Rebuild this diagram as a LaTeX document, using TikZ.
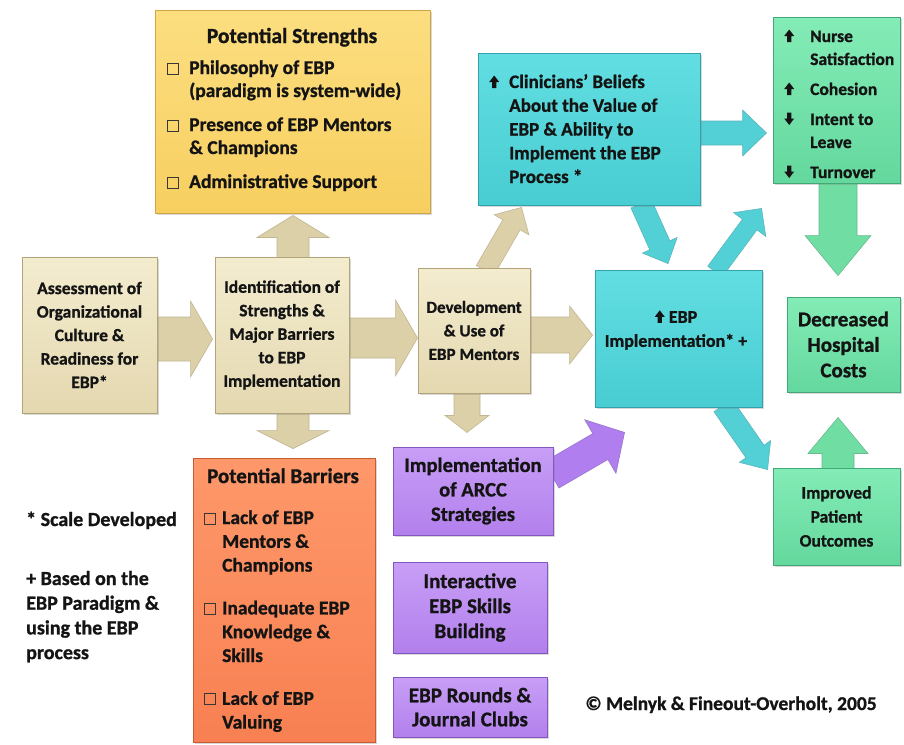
\documentclass[tikz,border=0pt]{standalone}
\usepackage{fontspec}
\setmainfont{Carlito}[BoldFeatures={FakeBold=1}]
\usetikzlibrary{calc,shadows}
\pgfdeclarelayer{bgwhite}
\pgfdeclarelayer{arrowlayer}
\pgfsetlayers{bgwhite,arrowlayer,main}

\definecolor{tanT}{RGB}{243,236,207}
\definecolor{tanB}{RGB}{228,216,176}
\definecolor{tanD}{RGB}{178,163,120}
\definecolor{tanA}{RGB}{220,208,168}
\definecolor{yelT}{RGB}{252,222,128}
\definecolor{yelB}{RGB}{247,207,96}
\definecolor{yelD}{RGB}{205,165,70}
\definecolor{cyaT}{RGB}{98,222,226}
\definecolor{cyaB}{RGB}{72,205,210}
\definecolor{cyaD}{RGB}{52,162,170}
\definecolor{cyaA}{RGB}{82,208,214}
\definecolor{grnT}{RGB}{132,236,182}
\definecolor{grnB}{RGB}{100,216,158}
\definecolor{grnD}{RGB}{68,168,118}
\definecolor{grnA}{RGB}{112,222,162}
\definecolor{ornT}{RGB}{254,152,106}
\definecolor{ornB}{RGB}{248,128,82}
\definecolor{ornD}{RGB}{198,92,52}
\definecolor{purT}{RGB}{200,158,246}
\definecolor{purB}{RGB}{178,128,236}
\definecolor{purD}{RGB}{128,88,190}
\definecolor{purA}{RGB}{176,126,238}
\definecolor{ink}{RGB}{20,20,20}

\newcommand{\cbx}{\tikz[baseline=0pt]\draw[line width=1pt,draw=ink!85] (0pt,0pt) rectangle (11pt,11pt);}
\newcommand{\upic}{\tikz[baseline=0pt]\fill[ink] (-2.2pt,0pt) -- (-2.2pt,6pt) -- (-5pt,6pt) -- (0pt,12.5pt) -- (5pt,6pt) -- (2.2pt,6pt) -- (2.2pt,0pt) -- cycle;}
\newcommand{\dnic}{\tikz[baseline=0pt]\fill[ink] (-2.2pt,12.5pt) -- (-2.2pt,6.5pt) -- (-5pt,6.5pt) -- (0pt,0pt) -- (5pt,6.5pt) -- (2.2pt,6.5pt) -- (2.2pt,12.5pt) -- cycle;}
% fat block arrow: style, start, tip, half shaft, half head, head length
\newcommand{\fatarr}[6]{%
  \coordinate (faC) at ($(#3)!#6!(#2)$);
  \filldraw[#1] ($(#2)!#4!90:(#3)$) -- ($(faC)!#4!90:(#3)$) -- ($(faC)!#5!90:(#3)$) -- (#3)
    -- ($(faC)!#5!-90:(#3)$) -- ($(faC)!#4!-90:(#3)$) -- ($(#2)!#4!-90:(#3)$) -- cycle;}

\tikzset{
  bx/.style={rectangle, inner sep=0pt, line width=0.9pt, align=center, text=ink,
    drop shadow={shadow xshift=1.8pt, shadow yshift=-1.8pt, opacity=.3}},
  tanbox/.style={bx, top color=tanT, bottom color=tanB, draw=tanD},
  yelbox/.style={bx, top color=yelT, bottom color=yelB, draw=yelD},
  cyabox/.style={bx, top color=cyaT, bottom color=cyaB, draw=cyaD},
  grnbox/.style={bx, top color=grnT, bottom color=grnB, draw=grnD},
  ornbox/.style={bx, top color=ornT, bottom color=ornB, draw=ornD},
  purbox/.style={bx, top color=purT, bottom color=purB, draw=purD},
  txt/.style={inner sep=0pt, text=ink},
  tanarr/.style={fill=tanA, draw=tanD!80, line width=0.6pt},
  cyaarr/.style={fill=cyaA, draw=cyaD!80, line width=0.6pt},
  grnarr/.style={fill=grnA, draw=grnD!80, line width=0.6pt},
  purarr/.style={fill=purA, draw=purD!80, line width=0.6pt},
}

\begin{document}
\begin{tikzpicture}[x=1pt,y=-1pt]
\useasboundingbox (0,0) rectangle (904,744);
\begin{pgfonlayer}{bgwhite}
  \fill[white] (0,0) rectangle (904,744);
\end{pgfonlayer}

% ---- boxes ----
\node[yelbox, minimum width=275pt, minimum height=203pt] (str) at (292.5,111.5) {};
\node[txt, anchor=base, font=\fontsize{21.5}{24}\selectfont\bfseries] (strT) at (292,43) {Potential Strengths};
\node[txt, anchor=base west, font=\fontsize{19.5}{23}\selectfont\bfseries] (strL) at (167,74)
  {\begin{tabular}[t]{@{}l@{\hspace{10pt}}l@{}}
   \cbx & Philosophy of EBP\\
        & (paradigm is system-wide)\\[11pt]
   \cbx & Presence of EBP Mentors\\
        & \& Champions\\[11pt]
   \cbx & Administrative Support
   \end{tabular}};

\node[cyabox, minimum width=222pt, minimum height=152pt] (clin) at (589,129) {};
\node[txt, anchor=base west, font=\fontsize{19}{23.75}\selectfont\bfseries] (clinT) at (489,88)
  {\begin{tabular}[t]{@{}l@{\hspace{10pt}}l@{}}
   \upic & Clinicians’ Beliefs\\
         & About the Value of\\
         & EBP \& Ability to\\
         & Implement the EBP\\
         & Process *
   \end{tabular}};

\node[grnbox, minimum width=127pt, minimum height=166pt] (nurse) at (836.5,100) {};
\node[txt, anchor=base west, font=\fontsize{17.5}{23}\selectfont\bfseries] (nurseT) at (784,42)
  {\begin{tabular}[t]{@{}l@{\hspace{16pt}}l@{}}
   \upic & Nurse\\
         & Satisfaction\\[7pt]
   \upic & Cohesion\\[7pt]
   \dnic & Intent to\\
         & Leave\\[7pt]
   \dnic & Turnover
   \end{tabular}};

\node[tanbox, minimum width=135pt, minimum height=156pt, font=\fontsize{17.5}{23.5}\selectfont\bfseries] (assess) at (89.5,335)
  {Assessment of\\Organizational\\Culture \&\\Readiness for\\EBP*};
\node[tanbox, minimum width=134pt, minimum height=156pt, font=\fontsize{17.5}{23.5}\selectfont\bfseries] (ident) at (282,335)
  {Identification of\\Strengths \&\\Major Barriers\\to EBP\\Implementation};
\node[tanbox, minimum width=112pt, minimum height=125pt, font=\fontsize{17}{23.5}\selectfont\bfseries] (dev) at (474,330.5)
  {Development\\\& Use of\\EBP Mentors};

\node[cyabox, minimum width=167pt, minimum height=137pt] (impl) at (678.5,338.5) {};
\node[txt, align=center, font=\fontsize{18}{24}\selectfont\bfseries] (implT) at (676,330)
  {\upic\ EBP\\Implementation* +};

\node[grnbox, minimum width=113pt, minimum height=95pt, font=\fontsize{21}{25.5}\selectfont\bfseries] (decr) at (843.5,344.5)
  {Decreased\\Hospital\\Costs};
\node[grnbox, minimum width=127pt, minimum height=97pt, font=\fontsize{17.5}{24}\selectfont\bfseries] (impr) at (836.5,516.5)
  {Improved\\Patient\\Outcomes};

\node[ornbox, minimum width=182pt, minimum height=284pt] (barr) at (284,600) {};
\node[txt, anchor=base, font=\fontsize{21}{24}\selectfont\bfseries] (barrT) at (283,483) {Potential Barriers};
\node[txt, anchor=base west, font=\fontsize{19.5}{23.8}\selectfont\bfseries] (barrL) at (204,524)
  {\begin{tabular}[t]{@{}l@{\hspace{6pt}}l@{}}
   \cbx & Lack of EBP\\
        & Mentors \&\\
        & Champions\\[19pt]
   \cbx & Inadequate EBP\\
        & Knowledge \&\\
        & Skills\\[19pt]
   \cbx & Lack of EBP\\
        & Valuing
   \end{tabular}};

\node[purbox, minimum width=160pt, minimum height=88pt, font=\fontsize{20.5}{24.5}\selectfont\bfseries] (arcc) at (473,491)
  {Implementation\\of ARCC\\Strategies};
\node[purbox, minimum width=154pt, minimum height=91pt, font=\fontsize{21}{25}\selectfont\bfseries] (inter) at (470,607.5)
  {Interactive\\EBP Skills\\Building};
\node[purbox, minimum width=154pt, minimum height=60pt, font=\fontsize{21}{24}\selectfont\bfseries] (rounds) at (470,707)
  {EBP Rounds \&\\Journal Clubs};

% ---- notes ----
\node[txt, anchor=base west, font=\fontsize{20}{24.7}\selectfont\bfseries] (note1) at (26,526) {* Scale Developed};
\node[txt, anchor=base west, font=\fontsize{20}{24.7}\selectfont\bfseries] (note2) at (26,585)
  {\begin{tabular}[t]{@{}l@{}}+ Based on the\\EBP Paradigm \&\\using the EBP\\process\end{tabular}};
\node[txt, anchor=base, font=\fontsize{19.5}{24}\selectfont\bfseries] (copy) at (731,710) {© Melnyk \& Fineout-Overholt, 2005};

% ---- arrow end points ----
\coordinate (a1s) at ($(assess.east)+(-2,4)$);
\coordinate (a1e) at ($(ident.west)+(-2,4)$);
\coordinate (a2s) at ($(ident.east)+(-2,3)$);
\coordinate (a2e) at ($(dev.west)+(0,7.5)$);
\coordinate (a3s) at ($(dev.east)+(-2,4.5)$);
\coordinate (a3e) at ($(impl.west)+(-2,-3.5)$);
\coordinate (a4s) at ($(ident.north)+(11,2)$);
\coordinate (a4e) at ($(str.south)+(0.5,2)$);
\coordinate (a5s) at ($(ident.south)+(11,-2)$);
\coordinate (a5e) at ($(barr.north)+(9,-9)$);
\coordinate (a6s) at ($(dev.south)+(-7,-2)$);
\coordinate (a6e) at ($(dev.south)+(-7,39)$);
\coordinate (a7s) at ($(dev.north)+(11,3)$);
\coordinate (a7e) at ($(clin.south west)+(44,2)$);
\coordinate (a8s) at ($(clin.east)+(-2,4)$);
\coordinate (a8e) at ($(nurse.west)+(-6,33)$);
\coordinate (a9s) at ($(clin.south)+(52,-2)$);
\coordinate (a9e) at ($(impl.north)+(-10.5,-6)$);
\coordinate (a10s) at ($(impl.north)+(36.5,2)$);
\coordinate (a10e) at ($(nurse.south west)+(-11,25)$);
\coordinate (a11s) at ($(impl.south)+(44.5,-2)$);
\coordinate (a11e) at ($(impr.north west)+(-5,2)$);
\coordinate (a12s) at ($(arcc.east)+(-2,-16)$);
\coordinate (a12e) at ($(impl.south west)+(30,25)$);
\coordinate (a13s) at ($(nurse.south)+(1.5,-2)$);
\coordinate (a13e) at ($(decr.north)+(-5.5,-21)$);
\coordinate (a14s) at ($(impr.north)+(1.5,2)$);
\coordinate (a14e) at ($(decr.south)+(-5.5,25)$);

\begin{pgfonlayer}{arrowlayer}
  \fatarr{tanarr}{a1s}{a1e}{22pt}{38pt}{22pt}
  \fatarr{tanarr}{a2s}{a2e}{20pt}{38pt}{22pt}
  \fatarr{tanarr}{a3s}{a3e}{18pt}{29pt}{23pt}
  \fatarr{tanarr}{a4s}{a4e}{16pt}{36pt}{22pt}
  \fatarr{tanarr}{a5s}{a5e}{16pt}{36pt}{18pt}
  \fatarr{tanarr}{a6s}{a6e}{13pt}{22pt}{17pt}
  \fatarr{tanarr}{a7s}{a7e}{10pt}{20pt}{20pt}
  \fatarr{cyaarr}{a8s}{a8e}{12pt}{23pt}{24pt}
  \fatarr{cyaarr}{a9s}{a9e}{11pt}{19pt}{20pt}
  \fatarr{cyaarr}{a10s}{a10e}{9pt}{20pt}{20pt}
  \fatarr{cyaarr}{a11s}{a11e}{11pt}{19pt}{22pt}
  \fatarr{purarr}{a12s}{a12e}{15pt}{31pt}{28pt}
  \fatarr{grnarr}{a13s}{a13e}{19pt}{33pt}{40pt}
  \fatarr{grnarr}{a14s}{a14e}{16pt}{30pt}{36pt}
\end{pgfonlayer}
\end{tikzpicture}
\end{document}
